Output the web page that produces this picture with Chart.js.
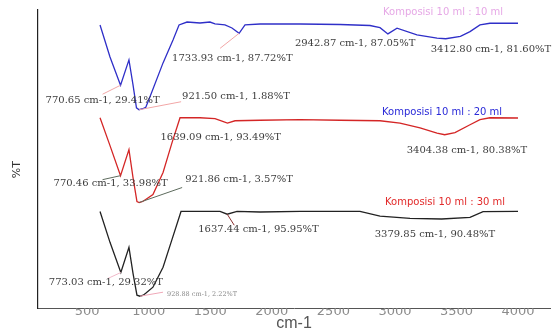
<!DOCTYPE html>
<html>
<head>
<meta charset="utf-8">
<title>FTIR Komposisi</title>
<script src="https://cdn.jsdelivr.net/npm/chart.js@4.4.1/dist/chart.umd.min.js"></script>
<style>
  html, body { margin: 0; padding: 0; background: #fff; }
  #wrap { width: 553px; height: 334px; }
</style>
</head>
<body>
<div id="wrap"><canvas id="ftir"></canvas></div>
<script>
// x axis tick labels (cm-1)
const xTicks = [500, 1000, 1500, 2000, 2500, 3000, 3500, 4000];
const seriesNames = ['Komposisi 10 ml : 10 ml', 'Komposisi 10 ml : 20 ml', 'Komposisi 10 ml : 30 ml'];

// 10 ml : 10 ml  (wavenumber, %T)
const wn1 = [604, 685, 839, 872, 900, 950, 975, 1010, 1116, 1197, 1246, 1311, 1416, 1497, 1538, 1619, 1676, 1782, 1904, 2229, 2554, 2797, 2879, 3017, 3179, 3342, 3532, 3610, 3691, 3772, 4000];
const t1  = [97.1, 61.2, 57.9, 29.9, 4.1, 3.0, 4.5, 16.4, 54.5, 80.3, 97.1, 100.4, 99.3, 100.4, 98.2, 97.1, 93.7, 97.1, 98.2, 98.2, 97.6, 96.5, 94.1, 93.4, 85.9, 82.2, 84.2, 89.6, 97.1, 99.0, 99.0];
const peakWn1 = [770.65, 921.50, 1733.93, 2942.87, 3412.80];
const peakT1  = [29.41, 1.88, 87.72, 87.05, 81.60];

// 10 ml : 20 ml
const wn2 = [604, 685, 839, 872, 904, 950, 975, 1034, 1116, 1189, 1254, 1416, 1538, 1595, 1701, 1904, 2229, 2554, 2879, 3041, 3204, 3342, 3488, 3610, 3691, 3772, 4000];
const t2  = [99.6, 68.0, 63.5, 31.8, 4.7, 4.7, 7.0, 12.6, 37.5, 71.4, 99.6, 99.6, 98.5, 95.7, 96.2, 96.8, 97.4, 96.8, 96.2, 93.6, 88.0, 82.3, 82.7, 91.7, 97.4, 99.6, 99.3];
const peakWn2 = [770.46, 921.86, 1639.09, 3404.38];
const peakT2  = [33.98, 3.57, 93.49, 80.38];

// 10 ml : 30 ml
const wn3 = [604, 685, 839, 872, 904, 955, 975, 1034, 1116, 1189, 1262, 1416, 1579, 1717, 1904, 2229, 2716, 2879, 3123, 3610, 3716, 4000];
const t3  = [99.1, 63.8, 58.1, 28.4, 3.4, 3.4, 5.6, 12.5, 35.3, 67.2, 99.1, 99.1, 99.1, 99.1, 98.5, 99.1, 99.1, 93.8, 91.1, 92.3, 98.8, 99.1];
const peakWn3 = [773.03, 928.88, 1637.44, 3379.85];
const peakT3  = [29.32, 2.22, 95.95, 90.48];

const peakWn = [peakWn1, peakWn2, peakWn3];
const peakT = [peakT1, peakT2, peakT3];
const axisIds = ['y1', 'y2', 'y3'];
const lineColors = ['#2f2fc8', '#d42626', '#222222'];
const nameColors = ['#e6a8e6', '#2a2ad8', '#e22a2a'];

// where each peak caption sits relative to its peak (px), and its leader line
const peakStyle = [
  [
    { dx: -75, dy: 15, lx: -18, ly: 9, line: '#f2a6a6' },
    { dx: 43, dy: -13, lx: 42, ly: -8, line: '#f2a6a6' },
    { dx: -67, dy: 25, lx: -19, ly: 15, line: '#f2a6a6' },
    { dx: -93, dy: 9 },
    { dx: -15, dy: 11 }
  ],
  [
    { dx: -67, dy: 8, lx: -18, ly: 4, line: '#5d6b5d' },
    { dx: 46, dy: -23, lx: 43, ly: -15, line: '#5d6b5d' },
    { dx: -67, dy: 14 },
    { dx: -38, dy: 16 }
  ],
  [
    { dx: -72, dy: 10, lx: -13, ly: 6, line: '#f0b8c8' },
    { dx: 27, dy: -2, lx: 23, ly: -4, line: '#f0a8b8', size: 6.5, color: '#8a8a8a' },
    { dx: -29, dy: 15, lx: 7, ly: 11, line: '#8a3030' },
    { dx: -67, dy: 15 }
  ]
];
// composition names, offset from the last point of each trace
const nameOffset = [{ dx: -135, dy: -11 }, { dx: -136, dy: -6 }, { dx: -133, dy: -9 }];

function mergePoints(wn, t, pw, pt) {
  const pts = wn.map((x, i) => ({ x: x, y: t[i] }));
  pw.forEach((x, i) => pts.push({ x: x, y: pt[i] }));
  return pts.sort((a, b) => a.x - b.x);
}

const traces = [
  mergePoints(wn1, t1, peakWn1, peakT1),
  mergePoints(wn2, t2, peakWn2, peakT2),
  mergePoints(wn3, t3, peakWn3, peakT3)
];

const peakLabels = {
  id: 'peakLabels',
  afterDatasetsDraw(chart) {
    const ctx = chart.ctx;
    const xs = chart.scales.x;
    ctx.save();
    peakStyle.forEach((list, s) => {
      const ys = chart.scales[axisIds[s]];
      list.forEach((st, i) => {
        const px = xs.getPixelForValue(peakWn[s][i]);
        const py = ys.getPixelForValue(peakT[s][i]);
        if (st.line) {
          ctx.strokeStyle = st.line;
          ctx.lineWidth = 1;
          ctx.beginPath();
          ctx.moveTo(px, py);
          ctx.lineTo(px + st.lx, py + st.ly);
          ctx.stroke();
        }
        ctx.font = (st.size || 10) + 'px "DejaVu Serif"';
        ctx.fillStyle = st.color || '#3c3c3c';
        ctx.textAlign = 'left';
        ctx.textBaseline = 'middle';
        ctx.fillText(peakWn[s][i].toFixed(2) + ' cm-1, ' + peakT[s][i].toFixed(2) + '%T', px + st.dx, py + st.dy);
      });
      const last = traces[s][traces[s].length - 1];
      const lx = xs.getPixelForValue(last.x);
      const ly = ys.getPixelForValue(last.y);
      ctx.font = '10px "DejaVu Sans"';
      ctx.fillStyle = nameColors[s];
      ctx.fillText(seriesNames[s], lx + nameOffset[s].dx, ly + nameOffset[s].dy);
    });
    ctx.restore();
  }
};

Chart.defaults.font.family = '"DejaVu Sans", sans-serif';

new Chart(document.getElementById('ftir'), {
  type: 'line',
  data: {
    datasets: traces.map((pts, s) => ({
      label: seriesNames[s],
      data: pts,
      yAxisID: axisIds[s],
      borderColor: lineColors[s],
      borderWidth: 1.3,
      pointRadius: 0,
      tension: 0,
      fill: false
    }))
  },
  options: {
    responsive: true,
    maintainAspectRatio: false,
    animation: false,
    layout: { padding: { top: 10, right: 3, bottom: 0, left: 0 } },
    plugins: { legend: { display: false }, tooltip: { enabled: false } },
    scales: {
      x: {
        type: 'linear',
        min: 100,
        max: 4260,
        afterBuildTicks: (scale) => { scale.ticks = xTicks.map(v => ({ value: v })); },
        grid: { display: false, drawTicks: false },
        border: { display: true, color: '#555', width: 1 },
        ticks: { color: '#8c8c8c', font: { size: 13 }, padding: -4, maxRotation: 0, autoSkip: false, callback: (v) => String(v) },
        title: { display: true, text: 'cm-1', color: '#555', font: { size: 16, family: '"Liberation Sans", sans-serif' }, padding: { top: -2, bottom: 1 } }
      },
      // one hidden axis per trace so the three spectra sit one above another
      y1: { type: 'linear', display: false, min: -221.0, max: 113.9 },
      y2: { type: 'linear', display: false, min: -116.2, max: 221.7 },
      y3: {
        type: 'linear',
        position: 'left',
        min: -11.5,
        max: 329.4,
        grid: { display: false, drawTicks: false },
        border: { display: true, color: '#222', width: 1.2 },
        ticks: { display: false },
        title: { display: true, text: '%T      ', color: '#333', font: { size: 11 }, padding: { top: 11, bottom: 13.8 } }
      }
    }
  },
  plugins: [peakLabels]
});
</script>
</body>
</html>
